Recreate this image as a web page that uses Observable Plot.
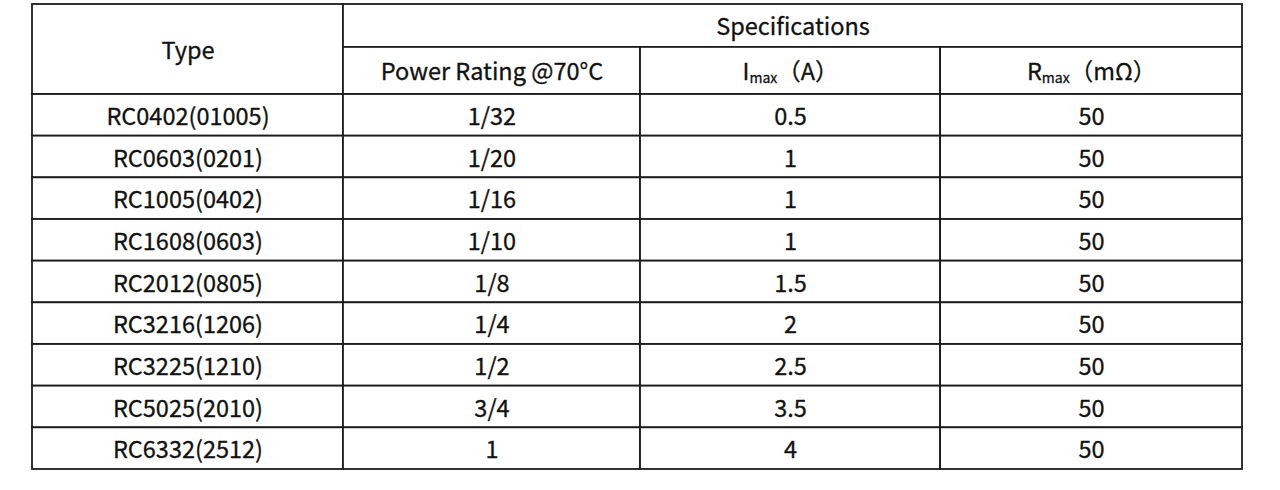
<!DOCTYPE html>
<html><head><meta charset="utf-8">
<script src="https://cdn.jsdelivr.net/npm/d3@7"></script>
<script src="https://cdn.jsdelivr.net/npm/@observablehq/plot@0.6"></script>
<style>html,body{margin:0;padding:0;background:#fff;} svg{display:block}</style>
</head><body><div id="chart"></div>
<script>
// ---- data ----
const types = ["RC0402(01005)", "RC0603(0201)", "RC1005(0402)", "RC1608(0603)", "RC2012(0805)", "RC3216(1206)", "RC3225(1210)", "RC5025(2010)", "RC6332(2512)"];
const powerRating = ["1/32", "1/20", "1/16", "1/10", "1/8", "1/4", "1/2", "3/4", "1"];
const iMax = [0.5, 1, 1, 1, 1.5, 2, 2.5, 3.5, 4];
const rMax = [50, 50, 50, 50, 50, 50, 50, 50, 50];
const headerType = "Type";
const headerGroup = "Specifications";
const subHeaders = ["Power Rating @70°C", "I|max|（A）", "R|max|（mΩ）"];

// ---- layout (relative units) ----
const colWidths = [1.028, 0.982, 0.992, 0.998];
const edges = [0];
colWidths.forEach(w => edges.push(edges[edges.length - 1] + w));
const headTop = -2.16, headMid = -1.13;

const cells = [];
types.forEach((t, i) => {
  const vals = [t, powerRating[i], String(iMax[i]), String(rMax[i])];
  vals.forEach((v, c) => cells.push({x1: edges[c], x2: edges[c + 1], y1: i, y2: i + 1, text: v}));
});
const headCells = [
  {x1: edges[0], x2: edges[1], y1: headTop, y2: 0, text: headerType},
  {x1: edges[1], x2: edges[4], y1: headTop, y2: headMid, text: headerGroup},
  ...subHeaders.map((s, k) => ({x1: edges[k + 1], x2: edges[k + 2], y1: headMid, y2: 0, text: s}))
];
const all = [...headCells, ...cells];
const font = "'Noto Sans CJK SC', 'Noto Sans', sans-serif";

const chart = Plot.plot({
  width: 1280,
  height: 490,
  margin: 0,
  x: {domain: [0, edges[4]], range: [32, 1242], axis: null},
  y: {domain: [headTop, types.length], range: [4, 469], axis: null},
  style: {background: "#fff", fontFamily: font},
  marks: [
    Plot.rect(all, {x1: "x1", x2: "x2", y1: "y1", y2: "y2", fill: "#fff", stroke: "#1c1c1c", strokeWidth: 1.8}),
    Plot.text(all, {
      x: d => (d.x1 + d.x2) / 2,
      y: d => (d.y1 + d.y2) / 2,
      text: "text",
      fontSize: 23.5,
      dy: 2,
      fill: "#111",
      stroke: "#111",
      strokeWidth: 0.3,
      fontFamily: font
    })
  ]
});

// subscripts in header
d3.select(chart).selectAll("text").each(function() {
  const s = this.textContent;
  if (s.includes("|")) {
    const [a, b, c] = s.split("|");
    const el = d3.select(this);
    el.text("");
    el.append("tspan").text(a);
    el.append("tspan").attr("font-size", 14).attr("dy", 3).text(b);
    el.append("tspan").attr("dy", -3).text(c);
  }
});

document.getElementById("chart").appendChild(chart);
</script>
</body></html>
